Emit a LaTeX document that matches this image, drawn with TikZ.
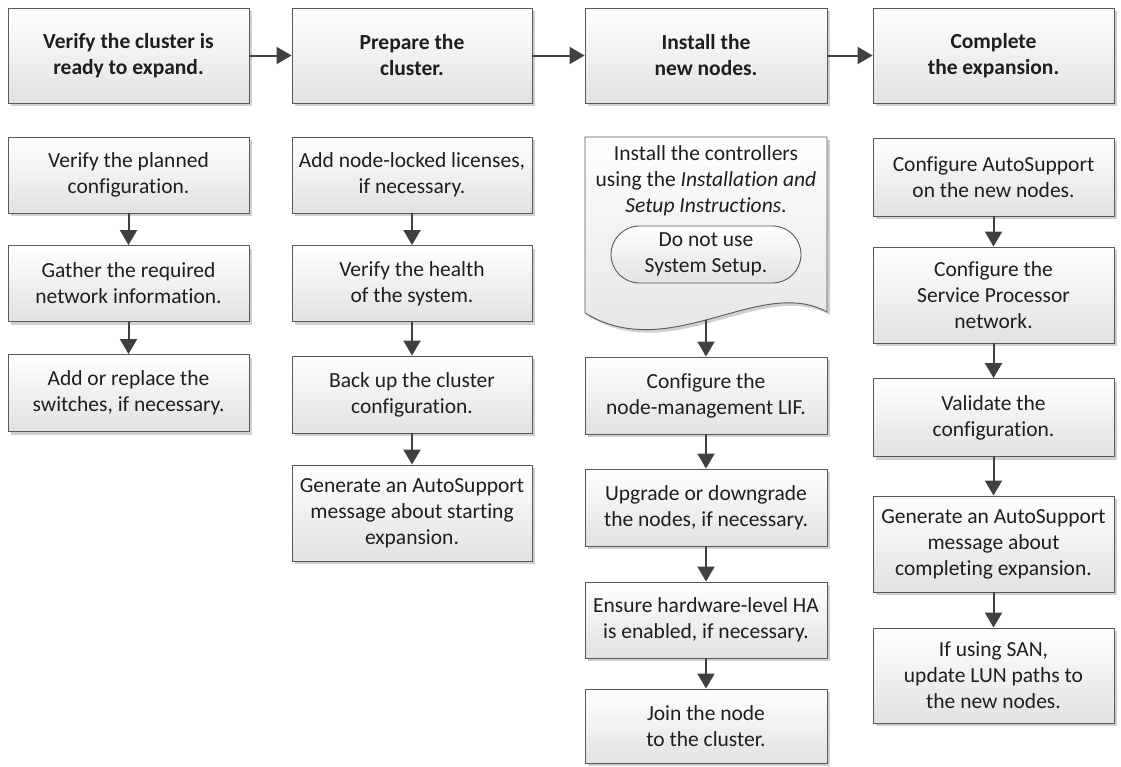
\documentclass[tikz,border=0pt]{standalone}
\usepackage{fontspec}
\setmainfont{Carlito}[Ligatures=NoCommon]
\usetikzlibrary{arrows.meta,shadows,shapes.misc}
\definecolor{bordercol}{HTML}{595959}
\definecolor{arrowcol}{HTML}{404040}
\definecolor{textcol}{HTML}{1E1E1E}
\definecolor{boxbot}{HTML}{E2E2E2}
\definecolor{shadowcol}{HTML}{D0D0D0}
\newcommand{\txtfont}{\fontsize{21.5}{26}\selectfont}
\tikzset{
  box/.style={draw=bordercol, line width=0.9pt, top color=white, bottom color=boxbot,
    align=center, inner sep=2pt, text=textcol, font=\txtfont,
    drop shadow={shadow xshift=3pt,shadow yshift=-3pt,fill=shadowcol,opacity=1}},
  hdr/.style={box, font=\txtfont\bfseries},
  wh/.style 2 args={minimum width=#1pt, minimum height=#2pt},
  arr/.style={draw=arrowcol, line width=2pt, -{Triangle[length=15pt,width=17pt]}},
  plain/.style={align=center, inner sep=0pt, text=textcol, font=\txtfont},
  pill/.style={rounded rectangle, draw=bordercol, line width=0.9pt, top color=white, bottom color=boxbot,
    align=center, inner sep=2pt, text=textcol, font=\txtfont}
}
\begin{document}
\begin{tikzpicture}[x=1pt,y=-1pt]
\useasboundingbox (0,0) rectangle (1121,766);
% headers
\node[hdr, wh={241}{95}] (h1) at (128.5,55.5) {Verify the cluster is\\ready to expand.};
\node[hdr, wh={240}{95}] (h2) at (412,55.5) {Prepare the\\cluster.};
\node[hdr, wh={242}{95}] (h3) at (706,55.5) {Install the\\new nodes.};
\node[hdr, wh={241}{95}] (h4) at (993.5,55.5) {Complete\\the expansion.};
\draw[arr] (h1) -- (h2);
\draw[arr] (h2) -- (h3);
\draw[arr] (h3) -- (h4);
% column 1
\node[box, wh={241}{76}] (a1) at (128.5,175) {Verify the planned\\configuration.};
\node[box, wh={241}{76}] (a2) at (128.5,283.5) {Gather the required\\network information.};
\node[box, wh={241}{77}] (a3) at (128.5,393) {Add or replace the\\switches, if necessary.};
\draw[arr] (a1) -- (a2);
\draw[arr] (a2) -- (a3);
% column 2
\node[box, wh={240}{76}] (b1) at (412,175) {Add node-locked licenses,\\if necessary.};
\node[box, wh={240}{76}] (b2) at (412,283.5) {Verify the health\\of the system.};
\node[box, wh={240}{77}] (b3) at (412,394.5) {Back up the cluster\\configuration.};
\node[box, wh={240}{96}] (b4) at (412,513) {Generate an AutoSupport\\message about starting\\expansion.};
\draw[arr] (b1) -- (b2);
\draw[arr] (b2) -- (b3);
\draw[arr] (b3) -- (b4);
% column 3 document shape
\def\docpath{(585,137) -- (827,137) -- (827,312) .. controls (760,275) and (670,365) .. (585,313) -- cycle}
\fill[shadowcol, shift={(3,3)}] \docpath;
\path[draw=bordercol, line width=0.9pt, top color=white, bottom color=boxbot] \docpath;
\node[plain] (inst) at (706,181) {Install the controllers\\using the \textit{Installation and}\\\textit{Setup Instructions}.};
\node[pill, minimum width=194pt, minimum height=57pt] (nouse) at (706,254.5) {Do not use\\System Setup.};
\coordinate (instb) at (706,320);
\node[box, wh={242}{77}] (c2) at (706,395.5) {Configure the\\node-management LIF.};
\node[box, wh={242}{77}] (c3) at (706,507.5) {Upgrade or downgrade\\the nodes, if necessary.};
\node[box, wh={242}{76}] (c4) at (706,620) {Ensure hardware-level HA\\is enabled, if necessary.};
\node[box, wh={242}{74}] (c5) at (706,726) {Join the node\\to the cluster.};
\draw[arr] (instb) -- (c2);
\draw[arr] (c2) -- (c3);
\draw[arr] (c3) -- (c4);
\draw[arr] (c4) -- (c5);
% column 4
\node[box, wh={241}{78}] (d1) at (993.5,177) {Configure AutoSupport\\on the new nodes.};
\node[box, wh={241}{96}] (d2) at (993.5,295) {Configure the\\Service Processor\\network.};
\node[box, wh={241}{78}] (d3) at (993.5,417.5) {Validate the\\configuration.};
\node[box, wh={241}{96}] (d4) at (993.5,544) {Generate an AutoSupport\\message about\\completing expansion.};
\node[box, wh={241}{95}] (d5) at (993.5,675.5) {If using SAN,\\update LUN paths to\\the new nodes.};
\draw[arr] (d1) -- (d2);
\draw[arr] (d2) -- (d3);
\draw[arr] (d3) -- (d4);
\draw[arr] (d4) -- (d5);
\end{tikzpicture}
\end{document}
